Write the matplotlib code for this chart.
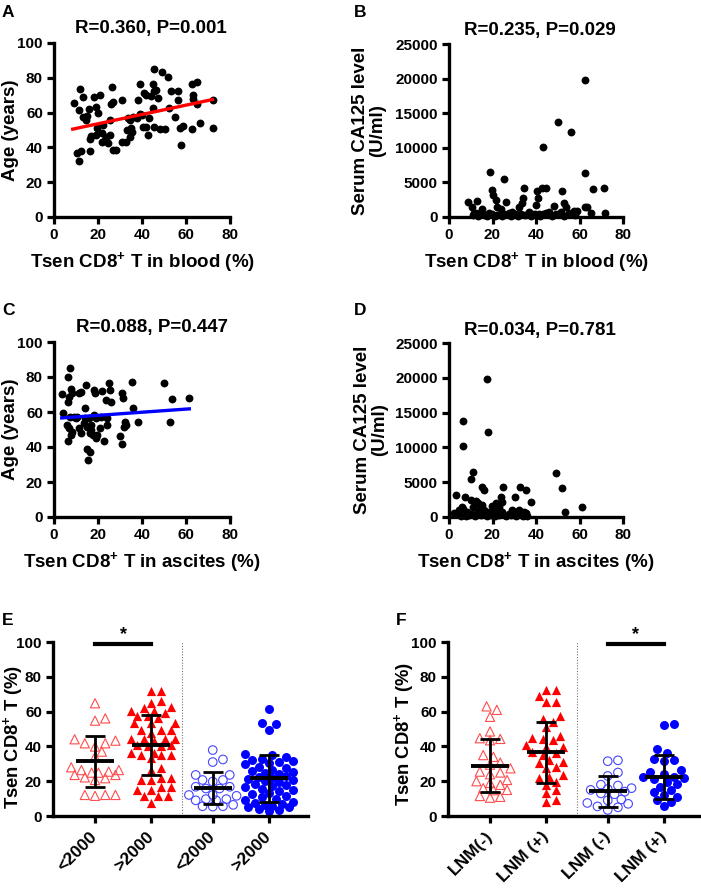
import matplotlib
matplotlib.use("Agg")
import matplotlib.pyplot as plt
import numpy as np

plt.rcParams['font.family'] = ['Liberation Sans', 'DejaVu Sans']
plt.rcParams['font.weight'] = 'bold'
plt.rcParams['axes.labelweight'] = 'bold'
plt.rcParams['mathtext.fontset'] = 'custom'
plt.rcParams['mathtext.rm'] = 'Liberation Sans:bold'
plt.rcParams['mathtext.bf'] = 'Liberation Sans:bold'
plt.rcParams['mathtext.default'] = 'bf'

# ---- A: blood Tsen CD8+ T vs age
blood_a = [9.0, 11.7, 11.4, 13.2, 10.5, 11.4, 12.4, 13.2, 14.7, 15.9, 16.2, 15.2, 17.0, 18.2, 19.3, 19.6,
           20.2, 21.1, 19.3, 22.0, 22.3, 21.6, 23.8, 25.3, 26.5, 26.0, 26.8, 25.6, 26.8, 28.0, 31.1, 30.8,
           32.6, 33.2, 33.7, 34.4, 34.7, 35.2, 35.6, 38.4, 39.3, 37.9, 38.9, 39.8, 40.5, 41.7, 40.8, 42.0,
           43.2, 42.8, 44.1, 44.8, 44.8, 45.4, 45.4, 46.3, 47.3, 45.4, 48.4, 50.5, 49.3, 51.9, 52.4, 53.4,
           54.9, 56.5, 56.5, 57.1, 57.5, 58.7, 62.5, 63.0, 63.3, 62.5, 65.1, 64.8, 66.3, 72.4, 72.1,
           16.5, 23.0, 24.5, 36.0]
age_a = [65.3, 73.3, 61.5, 69, 37, 32.4, 38, 57.6, 55.7, 62, 38, 58, 46.5, 69, 63, 51,
         59.5, 70, 47, 48, 53, 43, 46, 47, 75, 65, 66, 56, 38.5, 38.5, 67.5, 43,
         43, 50, 56.7, 46, 56, 51, 49, 67.5, 76.3, 57, 59, 58.5, 52, 52, 71, 70,
         56.7, 47, 69.5, 62.4, 76.3, 85.3, 72.5, 73, 68.5, 51.5, 50.4, 50.4, 83.4, 80.5, 62.4, 72.5,
         57.3, 72.5, 67.5, 51, 41.4, 52.3, 50.4, 70, 68, 76.3, 77.7, 64.7, 54.2, 67.2, 51.3,
         45.0, 44.0, 42.5, 57.5]
fit_a_x = [8.5, 72.0]
fit_a_y = [50.5, 67.5]

# ---- B: blood Tsen CD8+ T vs CA125
blood_b = [62.4, 50.1, 56.2, 43.4, 19.0, 25.4, 62.4, 66.1, 71.3, 34.5, 40.3, 42.6, 44.7, 51.8, 19.6, 20.4,
           21.5, 34.0, 41.1, 33.4, 8.9, 13.0, 26.4, 40.1, 48.3, 52.9, 53.7, 62.5, 63.6, 10.7, 15.3, 22.2,
           32.2, 23.8, 36.8, 29.1, 46.0, 57.5, 59.0, 65.2, 71.7, 11.5, 14.6, 18.4, 19.9, 25.3, 27.6, 30.7,
           33.0, 38.3, 41.4, 44.4, 49.0, 51.4, 55.2, 16.6, 11.0, 22.2, 35.0, 43.4, 39.5,
           13.5, 17.5, 21.0, 24.5, 28.5, 31.5, 37.5, 42.0, 47.5, 53.0, 58.0, 12.5]
ca125_b = [19800, 13730, 12240, 10160, 6460, 5450, 6310, 4100, 4240, 4190, 3800, 4140, 4240, 3760, 3900, 3180,
           2460, 2700, 2700, 1980, 2120, 2310, 2120, 1730, 1590, 2070, 1490, 1400, 1400, 1490, 1160, 1490,
           1490, 1160, 770, 770, 770, 910, 910, 530, 620, 530, 430, 530, 430, 430, 530, 430,
           430, 430, 430, 620, 430, 770, 530, 290, 290, 290, 290, 430, 430,
           150, 100, 200, 120, 180, 90, 160, 110, 200, 140, 250, 600]

# ---- C: ascites Tsen CD8+ T vs age
asc_c = [7.1, 6.4, 3.8, 7.6, 8.3, 6.8, 11.4, 12.1, 14.7, 6.4, 4.1, 9.1, 10.6, 14.1, 18.2, 18.5,
         22.0, 25.0, 25.5, 23.5, 25.8, 31.1, 31.5, 35.3, 36.1, 50.0, 53.5, 61.4, 52.7, 38.2, 32.1, 32.6,
         31.8, 29.8, 30.8, 18.2, 18.9, 21.2, 24.2, 24.2, 22.7, 6.4, 15.2, 16.4, 15.6, 5.8, 6.8, 8.3,
         7.6, 11.4, 12.1, 13.6, 14.8, 15.9, 16.7, 17.0, 17.9, 18.9, 19.7, 16.4, 20.9, 13.9, 9.8, 7.3]
age_c = [85.3, 80.2, 70.3, 73.1, 70.6, 68.8, 70.6, 71.6, 75.4, 66.0, 59.2, 57.0, 57.4, 62.5, 72.6, 70.6,
         72.0, 76.4, 72.6, 66.9, 65.9, 70.6, 67.8, 77.3, 62.5, 76.4, 67.4, 68.2, 54.5, 54.5, 54.5, 52.6,
         51.6, 46.5, 41.5, 58.3, 56.4, 57.4, 56.4, 52.6, 43.4, 43.4, 38.6, 36.9, 32.5, 52.6, 50.7, 48.8,
         46.9, 50.7, 47.8, 53.5, 51.6, 56.4, 52.6, 49.7, 46.9, 45.3, 46.9, 47.8, 50.7, 56.4, 56.4, 57.4]
fit_c_x = [3.5, 61.5]
fit_c_y = [56.6, 61.8]

# ---- D: ascites Tsen CD8+ T vs CA125
asc_d = [17.6, 6.4, 17.9, 6.4, 11.0, 10.1, 49.3, 52.1, 61.0, 53.2, 15.3, 16.1, 25.0, 32.6, 35.2, 37.7,
         30.3, 3.1, 7.4, 23.8, 24.5, 10.0, 12.3, 11.0, 13.5, 6.1, 15.3, 19.9, 21.5, 23.0, 6.4, 4.6,
         8.4, 14.1, 16.1, 18.4, 20.7, 24.5, 29.1, 30.7, 32.2, 33.0, 34.5, 35.2, 2.3, 3.8, 10.0, 13.0,
         16.9, 22.2, 27.6, 29.9, 9.2, 14.6, 19.2, 23.0, 28.4,
         5.5, 8.0, 12.0, 17.5, 21.0, 26.0, 31.0, 33.8, 36.0]
ca125_d = [19780, 13790, 12260, 10200, 6510, 5460, 6370, 4120, 1390, 770, 4360, 3880, 4270, 4360, 3880, 2200,
           2830, 3160, 2830, 2830, 2200, 2440, 2350, 1480, 1970, 1480, 1720, 1580, 1970, 1390, 1100, 1000,
           770, 1100, 1000, 770, 1000, 770, 1000, 770, 1000, 620, 770, 620, 620, 480, 480, 620,
           480, 480, 480, 480, 330, 330, 330, 330, 330,
           150, 100, 200, 120, 150, 100, 180, 200, 150]

# ---- E: CA125 <2000 / >2000 (blood red, ascites blue)
e_labels = ['<2000', '>2000', '<2000', '>2000']
e_blood_lo = [64.8, 56.1, 54.8, 44.1, 43.3, 41.8, 41.8, 39.9, 37.0, 34.1, 28.0, 26.4, 26.4, 25.5, 24.9,
              24.9, 23.6, 23.6, 22.2, 21.7, 20.7, 12.1, 12.1, 12.1, 11.6]
e_blood_hi = [72.0, 72.0, 66.3, 64.8, 62.8, 62.0, 60.5, 60.5, 59.4, 57.5, 57.5, 56.1, 53.2, 53.2, 53.2,
              49.4, 49.4, 49.4, 47.5, 44.1, 44.1, 44.1, 44.1, 43.3, 40.8, 40.8, 40.3, 40.3, 36.4, 36.4,
              35.1, 35.1, 35.1, 33.1, 27.4, 26.4, 21.7, 21.7, 20.7, 20.7, 16.5, 16.5, 14.9, 14.9, 11.5,
              11.5, 11.5, 7.7]
e_asc_lo = [37.9, 32.5, 31.0, 23.6, 23.6, 20.7, 19.8, 20.7, 16.8, 15.8, 15.8, 16.8, 12.1, 11.6, 12.1,
            9.0, 9.7, 9.0, 9.7, 5.6, 5.4, 5.6, 6.4]
e_asc_hi = [61.3, 53.2, 52.7, 49.4, 35.5, 34.8, 33.9, 32.6, 32.4, 31.8, 31.2, 30.5, 29.6, 28.3, 27.7,
            26.2, 25.8, 25.1, 24.6, 23.9, 23.2, 22.4, 21.8, 21.5, 20.7, 20.1, 19.4, 18.6, 17.9, 17.2,
            16.5, 15.8, 14.9, 14.2, 13.1, 12.4, 11.6, 10.8, 9.7, 9.1, 8.2, 7.6, 7.1, 6.3, 5.8,
            5.4, 5.1, 4.2, 3.4, 3.0]
e_mean = [31.5, 40.9, 16.3, 21.7]
e_sd = [14.7, 17.3, 9.2, 13.6]

# ---- F: LNM(-) / LNM(+)
f_labels = ['LNM(-)', 'LNM (+)', 'LNM (-)', 'LNM (+)']
f_blood_neg = [63.0, 61.0, 57.0, 48.6, 44.7, 44.3, 43.5, 35.0, 34.0, 30.7, 29.5, 27.4, 25.5, 25.0, 24.0,
               20.7, 20.0, 19.0, 17.9, 16.0, 15.0, 14.8, 11.5, 11.0, 10.5]
f_blood_pos = [72.2, 72.2, 68.7, 65.8, 65.8, 57.2, 55.7, 54.3, 51.4, 46.0, 45.0, 44.5, 43.5, 40.9, 39.9,
               39.5, 37.0, 36.0, 35.0, 32.0, 31.0, 30.3, 28.0, 27.4, 23.6, 22.6, 22.0, 19.8, 17.9, 15.0,
               13.0, 9.2, 8.0]
f_asc_neg = [32.0, 31.5, 25.0, 23.0, 18.0, 17.5, 16.0, 15.5, 15.0, 14.0, 13.0, 12.5, 9.5, 9.0, 7.5,
             7.0, 5.5, 5.0, 3.5]
f_asc_pos = [53.0, 52.5, 38.4, 36.0, 33.0, 32.2, 31.5, 26.5, 25.5, 24.0, 22.6, 22.6, 22.0, 21.0, 19.8,
             18.5, 16.9, 15.0, 14.0, 12.0, 11.1, 9.0, 8.3, 5.8]
f_mean = [29.0, 36.7, 14.2, 22.6]
f_sd = [15.3, 17.6, 8.8, 12.7]

W, H = 701, 890
fig = plt.figure(figsize=(W / 100, H / 100), dpi=100)


def add_ax(left, top, width, height):
    return fig.add_axes([left / W, (H - top - height) / H, width / W, height / H])


def style(ax, size=11):
    for s in ['top', 'right']:
        ax.spines[s].set_visible(False)
    for s in ['left', 'bottom']:
        ax.spines[s].set_linewidth(2.4)
    ax.tick_params(direction='out', length=5, width=2.3, labelsize=size, pad=3)
    for lab in ax.get_xticklabels() + ax.get_yticklabels():
        lab.set_fontweight('bold')


def scatter_panel(ax, x, y, ymax, title, tx, ty, xlabel, ylabel, ylab_x):
    ax.scatter(x, y, s=32, color='black', linewidths=0, zorder=3, clip_on=False)
    ax.set_xlim(0, 80)
    ax.set_ylim(0, ymax)
    ax.set_xticks([0, 20, 40, 60, 80])
    ax.set_yticks(np.linspace(0, ymax, 6))
    ax.set_xlabel(xlabel, fontsize=13.5)
    ax.set_ylabel(ylabel, fontsize=13.5, linespacing=1.0)
    ax.xaxis.set_label_coords(0.5, -0.19)
    ax.yaxis.set_label_coords(ylab_x, 0.5)
    ax.text(tx, 1 + ty, title, transform=ax.transAxes, ha='center', va='baseline',
            fontsize=13.5, fontweight='bold')
    style(ax)


xl_blood = r'Tsen CD8$^{+}$ T in blood (%)'
xl_asc = r'Tsen CD8$^{+}$ T in ascites (%)'

axA = add_ax(54, 43, 176, 174)
scatter_panel(axA, blood_a, age_a, 100, 'R=0.360, P=0.001', 0.548, 0.057,
              xl_blood, 'Age (years)', -0.2)
axA.plot(fit_a_x, fit_a_y, color='#ff0000', lw=2.4, zorder=4)

axB = add_ax(449, 44, 174, 173)
scatter_panel(axB, blood_b, ca125_b, 25000, 'R=0.235, P=0.029', 0.523, 0.052,
              xl_blood, 'Serum CA125 level\n(U/ml)', -0.36)

axC = add_ax(54, 342, 176, 175)
scatter_panel(axC, asc_c, age_c, 100, 'R=0.088, P=0.447', 0.557, 0.057,
              xl_asc, 'Age (years)', -0.2)
axC.plot(fit_c_x, fit_c_y, color='#0000ff', lw=2.4, zorder=4)

axD = add_ax(449, 343, 174, 174)
scatter_panel(axD, asc_d, ca125_d, 25000, 'R=0.034, P=0.781', 0.523, 0.046,
              xl_asc, 'Serum CA125 level\n(U/ml)', -0.35)


def swarm(vals, ppu_y=1.74, ppu_x=56.0, d=8.0, step=3.4, nmax=7):
    vals = np.asarray(vals, dtype=float)
    order = np.argsort(vals)
    cands = [0.0]
    for k in range(1, nmax + 1):
        cands += [k * step, -k * step]
    placed = []
    offs = np.zeros(len(vals))
    for i in order:
        yp = vals[i] * ppu_y
        best, best_d = cands[0], -1
        for c in cands:
            md = min([np.hypot(c - px, yp - py) for px, py in placed] or [99])
            if md >= d:
                best = c
                break
            if md > best_d:
                best, best_d = c, md
        offs[i] = best / ppu_x
        placed.append((best, yp))
    return offs


def group_panel(ax, groups, means, sds, labels, sig_pair):
    pos = [1, 2, 3.1, 4.1]
    styles = [
        dict(marker='^', facecolors='none', edgecolors='#ff4d4d', linewidths=0.8, s=44),
        dict(marker='^', color='#ff0000', linewidths=0, s=44),
        dict(marker='o', facecolors='none', edgecolors='#4646ff', linewidths=0.8, s=38),
        dict(marker='o', color='#0000ff', linewidths=0, s=42),
    ]
    for p, g, st in zip(pos, groups, styles):
        ax.scatter(p + swarm(g), g, zorder=2, clip_on=False, **st)
    for p, m, sd in zip(pos, means, sds):
        ax.hlines(m, p - 0.34, p + 0.34, color='black', lw=2.8, zorder=4)
        ax.errorbar(p, m, yerr=sd, color='black', capsize=7, elinewidth=2, capthick=2,
                    fmt='none', zorder=4)
    ax.axvline(2.55, ymin=0, ymax=1.005, color='#777777', lw=0.8, ls=(0, (1, 1.5)), clip_on=False)
    a, b = pos[sig_pair[0]], pos[sig_pair[1]]
    ax.plot([a, b], [98.9, 98.9], color='black', lw=3, clip_on=False, zorder=5)
    ax.text((a + b) / 2, 99.6, '*', ha='center', va='bottom', fontsize=13, fontweight='bold')
    ax.set_xlim(0.25, 4.8)
    ax.set_ylim(0, 100)
    ax.set_yticks([0, 20, 40, 60, 80, 100])
    ax.set_xticks(pos)
    ax.set_xticklabels(labels, rotation=45, ha='right', va='center', rotation_mode='anchor',
                       fontweight='bold')
    ax.set_ylabel(r'Tsen CD8$^{+}$ T (%)', fontsize=13.2)
    style(ax)
    ax.tick_params(axis='x', pad=8, labelsize=12.5)


axE = add_ax(53, 642, 255, 174)
group_panel(axE, [e_blood_lo, e_blood_hi, e_asc_lo, e_asc_hi], e_mean, e_sd, e_labels, (0, 1))
axE.yaxis.set_label_coords(-0.11, 0.454)

axF = add_ax(448, 642, 255, 174)
group_panel(axF, [f_blood_neg, f_blood_pos, f_asc_neg, f_asc_pos], f_mean, f_sd, f_labels, (2, 3))
axF.yaxis.set_label_coords(-0.125, 0.47)

for lab, x, y in [('A', 2, 5), ('B', 354, 5), ('C', 2, 303), ('D', 354, 303), ('E', 2, 613), ('F', 396, 613)]:
    fig.text(x / W, 1 - y / H, lab, fontsize=12.5, fontweight='bold', va='top', ha='left')

fig.savefig('out.png', dpi=100)
